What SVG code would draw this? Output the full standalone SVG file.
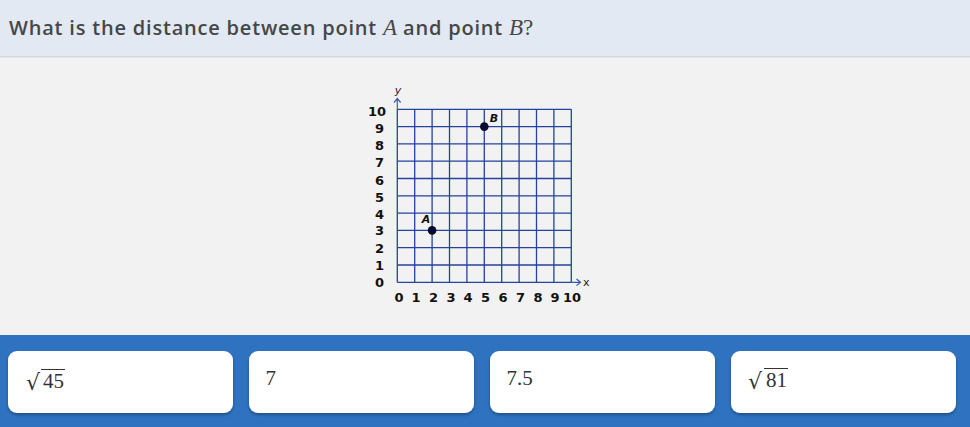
<svg xmlns="http://www.w3.org/2000/svg" width="970" height="427" viewBox="0 0 970 427">
<style>
.grid line{stroke:#23439c;stroke-width:1.3}
.ax{stroke:#3d5aa8;stroke-width:1.2;fill:none}
.yl{font-family:"DejaVu Sans",sans-serif;font-weight:bold;font-size:13px;fill:#111;text-anchor:end}
.xl{font-family:"DejaVu Sans",sans-serif;font-weight:bold;font-size:13px;fill:#111;text-anchor:middle}
.card rect{fill:#fff}
.ans{font-family:"Liberation Serif","Times New Roman",serif;font-size:21px;fill:#333}
.rad{font-family:"DejaVu Serif",serif;font-size:22px}
.pt{fill:#0b0b2e}
.pl{font-family:"DejaVu Sans",sans-serif;font-weight:bold;font-style:italic;font-size:11px;fill:#111}
</style>
<defs>
<filter id="sh" x="-5%" y="-10%" width="110%" height="130%">
<feDropShadow dx="0" dy="2" stdDeviation="1.5" flood-color="#000" flood-opacity="0.3"/>
</filter>
</defs>
<rect x="0" y="0" width="970" height="427" fill="#f2f2f2"/>
<g id="header">
<rect x="0" y="0" width="970" height="56" fill="#e2e9f3"/>
<rect x="0" y="56" width="970" height="1.5" fill="#d3d8de"/>
<text x="9" y="35" font-family="'Open Sans',sans-serif" font-weight="600" font-size="20" letter-spacing="0.8" fill="#474747">What is the distance between point <tspan font-family="'Liberation Serif',serif" font-weight="normal" font-style="italic" font-size="23" letter-spacing="0">A</tspan> and point <tspan font-family="'Liberation Serif',serif" font-weight="normal" font-style="italic" font-size="23" letter-spacing="0">B</tspan><tspan font-family="'Liberation Serif',serif" font-weight="normal" font-size="23" letter-spacing="0">?</tspan></text>
</g>
<g id="graph">
<g class="grid">
<line x1="397.3" y1="109.3" x2="397.3" y2="282.3"/>
<line x1="414.7" y1="109.3" x2="414.7" y2="282.3"/>
<line x1="432.1" y1="109.3" x2="432.1" y2="282.3"/>
<line x1="449.5" y1="109.3" x2="449.5" y2="282.3"/>
<line x1="466.9" y1="109.3" x2="466.9" y2="282.3"/>
<line x1="484.3" y1="109.3" x2="484.3" y2="282.3"/>
<line x1="501.7" y1="109.3" x2="501.7" y2="282.3"/>
<line x1="519.1" y1="109.3" x2="519.1" y2="282.3"/>
<line x1="536.5" y1="109.3" x2="536.5" y2="282.3"/>
<line x1="553.9" y1="109.3" x2="553.9" y2="282.3"/>
<line x1="571.3" y1="109.3" x2="571.3" y2="282.3"/>
<line x1="397.3" y1="109.3" x2="571.3" y2="109.3"/>
<line x1="397.3" y1="126.6" x2="571.3" y2="126.6"/>
<line x1="397.3" y1="143.9" x2="571.3" y2="143.9"/>
<line x1="397.3" y1="161.2" x2="571.3" y2="161.2"/>
<line x1="397.3" y1="178.5" x2="571.3" y2="178.5"/>
<line x1="397.3" y1="195.8" x2="571.3" y2="195.8"/>
<line x1="397.3" y1="213.1" x2="571.3" y2="213.1"/>
<line x1="397.3" y1="230.4" x2="571.3" y2="230.4"/>
<line x1="397.3" y1="247.7" x2="571.3" y2="247.7"/>
<line x1="397.3" y1="265.0" x2="571.3" y2="265.0"/>
<line x1="397.3" y1="282.3" x2="571.3" y2="282.3"/>
</g>
<path class="ax" d="M397.3 109.3V99 M394 102.5L397.3 98.5L400.6 102.5"/>
<path class="ax" d="M571.3 282.3H580.5 M576.5 279L580.5 282.3L576.5 285.6"/>
<text x="398" y="94" font-family="'DejaVu Sans',sans-serif" font-style="italic" font-size="11" fill="#222" text-anchor="middle">y</text>
<text x="583" y="286" font-family="'DejaVu Sans',sans-serif" font-size="11" fill="#222">x</text>
<text class="yl" x="386" y="116">10</text>
<text class="yl" x="384" y="133">9</text>
<text class="yl" x="384" y="150">8</text>
<text class="yl" x="384" y="167">7</text>
<text class="yl" x="384" y="185">6</text>
<text class="yl" x="384" y="202">5</text>
<text class="yl" x="384" y="219">4</text>
<text class="yl" x="384" y="235">3</text>
<text class="yl" x="384" y="253">2</text>
<text class="yl" x="384" y="270">1</text>
<text class="yl" x="384" y="287">0</text>
<text class="xl" x="399" y="302">0</text>
<text class="xl" x="416" y="302">1</text>
<text class="xl" x="433.5" y="302">2</text>
<text class="xl" x="451" y="302">3</text>
<text class="xl" x="468" y="302">4</text>
<text class="xl" x="485.5" y="302">5</text>
<text class="xl" x="503" y="302">6</text>
<text class="xl" x="520.5" y="302">7</text>
<text class="xl" x="538" y="302">8</text>
<text class="xl" x="555" y="302">9</text>
<text class="xl" x="572" y="302">10</text>
</g>
<g id="pointA">
<circle class="pt" cx="432.1" cy="230.4" r="4.3"/>
<text class="pl" x="426" y="223" text-anchor="middle">A</text>
</g>
<g id="pointB">
<circle class="pt" cx="484.3" cy="126.6" r="4.3"/>
<text class="pl" x="494" y="122" text-anchor="middle">B</text>
</g>
<rect x="0" y="335" width="970" height="92" fill="#2e72c0"/>
<g id="card1" class="card">
<rect x="8" y="351" width="225" height="62" rx="9" filter="url(#sh)"/>
<text class="ans" x="26" y="388"><tspan class="rad" dy="2">√</tspan><tspan x="43" dy="-2">45</tspan></text>
<line x1="41" y1="369.5" x2="65" y2="369.5" stroke="#333" stroke-width="1"/>
</g>
<g id="card2" class="card">
<rect x="249" y="351" width="225" height="62" rx="9" filter="url(#sh)"/>
<text class="ans" x="265.5" y="385">7</text>
</g>
<g id="card3" class="card">
<rect x="490" y="351" width="225" height="62" rx="9" filter="url(#sh)"/>
<text class="ans" x="506.5" y="385">7.5</text>
</g>
<g id="card4" class="card">
<rect x="731" y="351" width="225" height="62" rx="9" filter="url(#sh)"/>
<text class="ans" x="748" y="387"><tspan class="rad" dy="2">√</tspan><tspan x="766" dy="-2">81</tspan></text>
<line x1="764" y1="368.5" x2="788" y2="368.5" stroke="#333" stroke-width="1"/>
</g>
</svg>
